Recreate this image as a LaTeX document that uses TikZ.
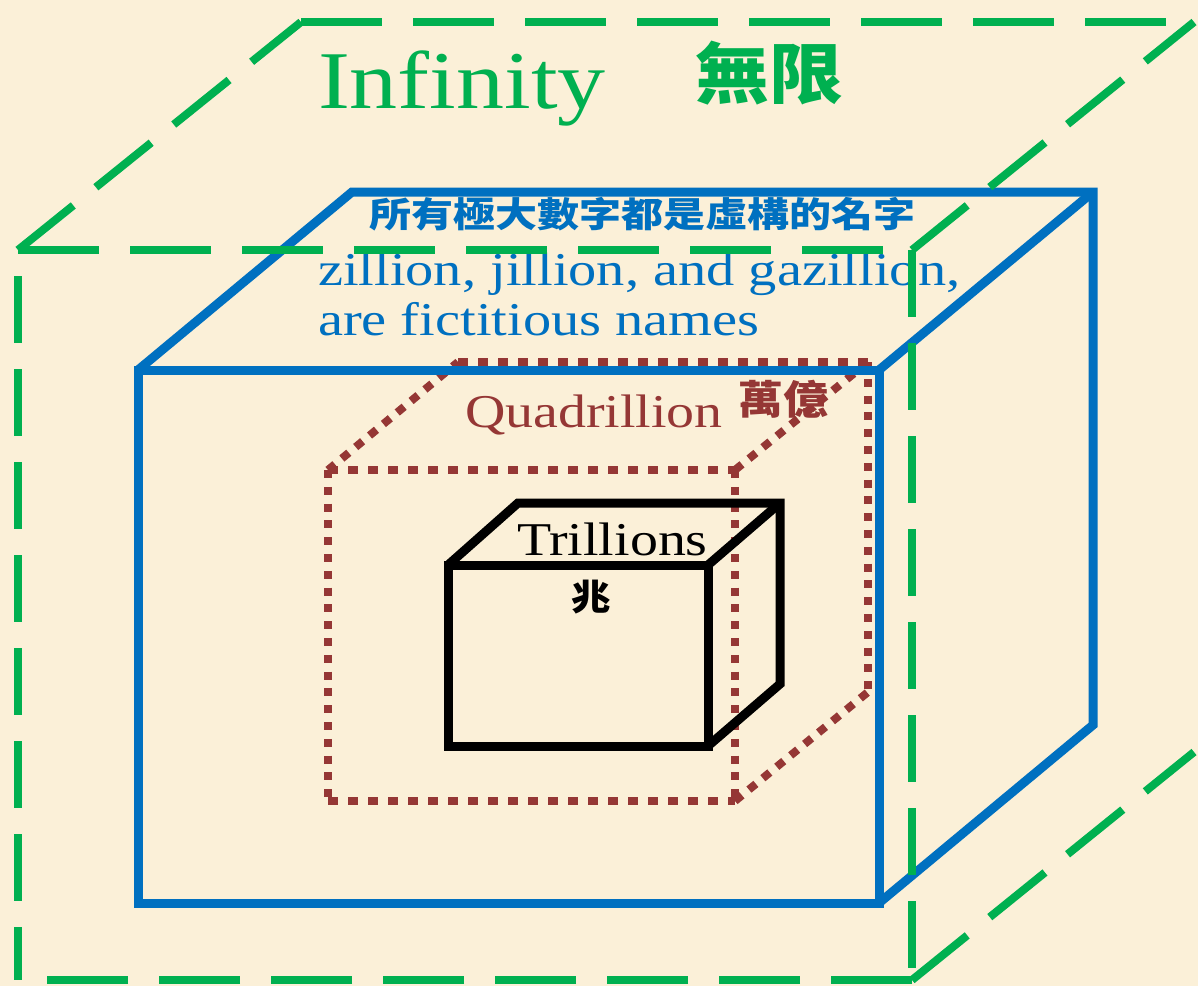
\documentclass[tikz,border=0pt]{standalone}
\usepackage{fontspec}
\setmainfont{Liberation Serif}
\newfontfamily\cjk{Noto Sans CJK TC}
\definecolor{bgc}{HTML}{FBF0D8}
\definecolor{grn}{HTML}{00B050}
\definecolor{blu}{HTML}{0070C0}
\definecolor{brn}{HTML}{953735}
\tikzset{
  txt/.style={inner sep=0pt, outer sep=0pt},
  greenh/.style={draw=grn, line width=4pt, dash pattern=on 40.5pt off 15.5pt},
  greenv/.style={draw=grn, line width=4pt, dash pattern=on 33.5pt off 13pt},
  greend/.style={draw=grn, line width=4pt, dash pattern=on 35.5pt off 14.5pt},
  bluebox/.style={draw=blu, line width=4.5pt, line join=miter},
  blackbox/.style={draw=black, line width=4.5pt, line join=miter},
  dotsh/.style={draw=brn, line width=4pt, dash pattern=on 5pt off 5pt},
  dotsv/.style={draw=brn, line width=4pt, dash pattern=on 4pt off 4.4pt},
  dotsd/.style={draw=brn, line width=4pt, dash pattern=on 4.5pt off 4.5pt},
}
\begin{document}
\begin{tikzpicture}[x=0.5pt,y=-0.5pt]
\useasboundingbox (0,0) rectangle (1198,986);
\fill[bgc] (0,0) rectangle (1198,986);
\clip (0,0) rectangle (1198,986);

% ---------- texts ----------
\node[txt, anchor=base west, text=grn, font=\fontsize{41pt}{41pt}\selectfont] (inf) at (318,108) {\scalebox{1.17}[1]{Infinity}};
\node[txt, text=grn, font=\cjk\bfseries\fontsize{33pt}{33pt}\selectfont] (wuxian) at (769,73) {\scalebox{1.12}[1]{無限}};
\node[txt, text=blu, font=\cjk\bfseries\fontsize{17.5pt}{17.5pt}\selectfont] (cjkline) at (642,214) {\scalebox{1.2}[1]{所有極大數字都是虛構的名字}};
\node[txt, anchor=base west, text=blu, font=\fontsize{23.5pt}{23.5pt}\selectfont] (zil) at (318,285) {\scalebox{1.2}[1]{zillion, jillion, and gazillion,}};
\node[txt, anchor=base west, text=blu, font=\fontsize{23.5pt}{23.5pt}\selectfont] (fict) at (318,335) {\scalebox{1.2}[1]{are fictitious names}};
\node[txt, anchor=base west, text=brn, font=\fontsize{23.5pt}{23.5pt}\selectfont] (quad) at (465,427) {\scalebox{1.19}[1]{Quadrillion}};
\node[txt, text=brn, font=\cjk\bfseries\fontsize{20pt}{20pt}\selectfont] (wanyi) at (783,399) {\scalebox{1.12}[1]{萬億}};
\node[txt, anchor=base west, text=black, font=\fontsize{23.5pt}{23.5pt}\selectfont] (tril) at (517,555) {\scalebox{1.19}[1]{Trillions}};
\node[txt, text=black, font=\cjk\bfseries\fontsize{18pt}{18pt}\selectfont] (zhao) at (591,597) {\scalebox{1.1}[1]{兆}};

% ---------- brown dotted box (quadrillion) ----------
\coordinate (qa) at (328,470); \coordinate (qb) at (735,470);
\coordinate (qc) at (735,801); \coordinate (qd) at (328,801);
\coordinate (qe) at (458,362); \coordinate (qf) at (868,362);
\coordinate (qg) at (868,692);
\draw[dotsh] (qa) -- (qb);
\draw[dotsh] (qd) -- (qc);
\draw[dotsh] (qe) -- (qf);
\draw[dotsv] (qa) -- (qd);
\draw[dotsv] (qb) -- (qc);
\draw[dotsv] (qf) -- (qg);
\draw[dotsd] (qa) -- (qe);
\draw[dotsd] (qb) -- (qf);
\draw[dotsd] (qc) -- (qg);

% ---------- black box (trillions) ----------
\coordinate (ta) at (448,565); \coordinate (tb) at (708,565);
\coordinate (tc) at (708,746); \coordinate (td) at (448,746);
\coordinate (te) at (518,503); \coordinate (tf) at (780,503);
\coordinate (tg) at (780,684);
\draw[blackbox] (ta) -- (tb) -- (tc) -- (td) -- cycle;
\draw[blackbox] (ta) -- (te) -- (tf) -- (tg) -- (tc);
\draw[blackbox] (tb) -- (tf);

% ---------- blue box ----------
\coordinate (ba) at (138,370); \coordinate (bb) at (879,370);
\coordinate (bc) at (879,903); \coordinate (bd) at (138,903);
\coordinate (be) at (352,192); \coordinate (bf) at (1093,192);
\coordinate (bg) at (1093,725);
\draw[bluebox] (ba) -- (bb) -- (bc) -- (bd) -- cycle;
\draw[bluebox] (ba) -- (be) -- (bf) -- (bg) -- (bc);
\draw[bluebox] (bb) -- (bf);

% ---------- green dashed box (infinity) ----------
\coordinate (ga) at (18,250); \coordinate (gb) at (912,250);
\coordinate (gc) at (912,980); \coordinate (gd) at (18,980);
\coordinate (ge) at (301,22); \coordinate (gf) at (1194,22);
\coordinate (gg) at (1194,752);
\draw[greenh] (ga) -- (gb);
\draw[greenh] (gc) -- (gd);
\draw[greenh] (ge) -- (gf);
\draw[greenv, dash phase=33.5pt] (ga) -- (gd);
\draw[greenv] (gb) -- (gc);
\draw[greend] (ga) -- (ge);
\draw[greend] (gb) -- (gf);
\draw[greend] (gc) -- (gg);
\end{tikzpicture}
\end{document}
